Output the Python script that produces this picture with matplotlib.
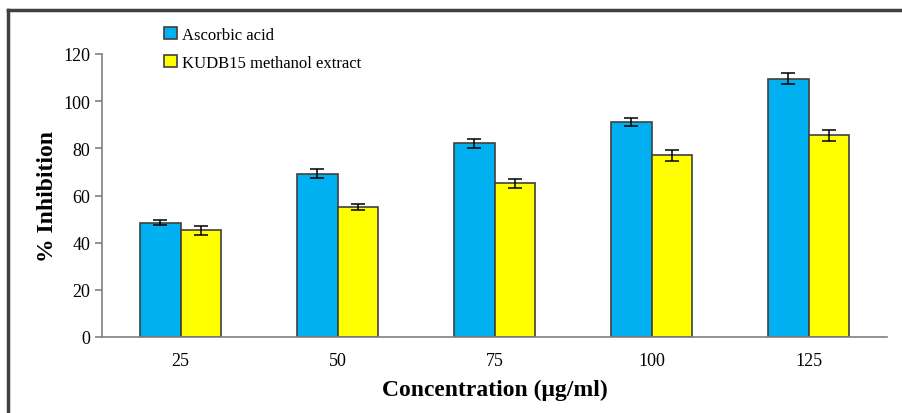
import matplotlib
matplotlib.use("Agg")
import matplotlib.pyplot as plt
import numpy as np

plt.rcParams['font.family'] = ['Liberation Serif', 'DejaVu Serif']

conc = ['25', '50', '75', '100', '125']
ascorbic = [48.5, 69.3, 82.2, 91.2, 109.6]
ascorbic_err = [1.0, 1.8, 1.9, 1.8, 2.3]
extract = [45.2, 55.0, 65.2, 77.0, 85.5]
extract_err = [2.0, 1.2, 1.9, 2.4, 2.3]

fig = plt.figure(figsize=(9.02, 4.14), dpi=100)
ax = fig.add_axes([102/902, 1-338/414, 785/902, 283/414])

x = np.arange(len(conc))
w = 0.26
ek = dict(ecolor='black', elinewidth=1.1, capsize=5, capthick=1.1)
ax.bar(x - w/2, ascorbic, w, yerr=ascorbic_err, color='#00B0F0', edgecolor='#404040',
       linewidth=1.2, label='Ascorbic acid', error_kw=ek)
ax.bar(x + w/2, extract, w, yerr=extract_err, color='#FFFF00', edgecolor='#404040',
       linewidth=1.2, label='KUDB15 methanol extract', error_kw=ek)

ax.set_xlim(-0.5, 4.5)
ax.set_ylim(0, 120)
ax.set_yticks(range(0, 121, 20))
ax.set_xticks(x)
ax.set_xticklabels(conc)
ax.spines['top'].set_visible(False)
ax.spines['right'].set_visible(False)
for s in ['left', 'bottom']:
    ax.spines[s].set_color('#808080')
    ax.spines[s].set_linewidth(1.2)
ax.tick_params(axis='y', colors='#808080', labelcolor='black', labelsize=13, length=5, width=1.2)
ax.tick_params(axis='x', length=0, labelsize=13, pad=11)

ax.set_xlabel('Concentration (μg/ml)', fontsize=17, fontweight='bold', labelpad=7)
ax.set_ylabel('% Inhibition', fontsize=17, fontweight='bold', labelpad=4)

ax.legend(loc='upper left', bbox_to_anchor=(0.07, 1.12), frameon=False, fontsize=12,
          handlelength=0.8, handleheight=0.8, handletextpad=0.3, labelspacing=0.7,
          borderaxespad=0)

# outer frame
fig.add_artist(plt.Line2D([8/902, 8/902], [0, 1-11/414], color='#404040', lw=2.5))
fig.add_artist(plt.Line2D([8/902, 1], [1-11/414, 1-11/414], color='#404040', lw=2.5))

fig.savefig('out.png', dpi=100)
